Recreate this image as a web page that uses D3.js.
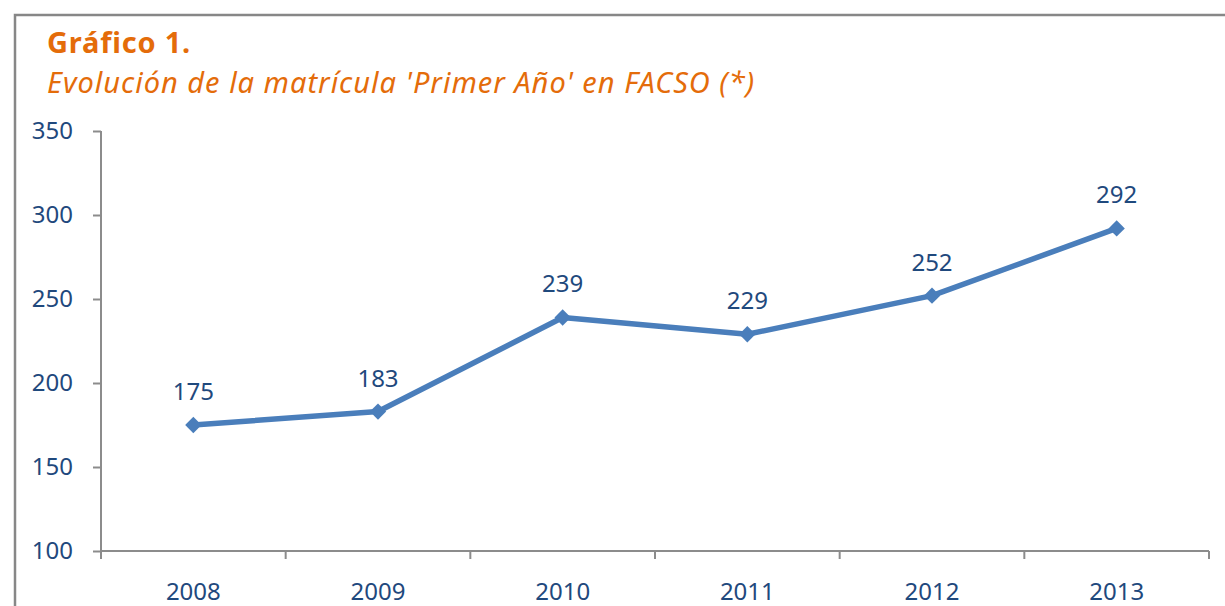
<!DOCTYPE html>
<html>
<head>
<meta charset="utf-8">
<script src="https://cdn.jsdelivr.net/npm/d3@7"></script>
<style>
  body { margin: 0; background: #fff; }
  svg text { font-family: "Noto Sans", sans-serif; }
</style>
</head>
<body>
<div id="chart"></div>
<script>
var years = ["2008", "2009", "2010", "2011", "2012", "2013"];
var matricula = [175, 183, 239, 229, 252, 292];
var y_ticks = [100, 150, 200, 250, 300, 350];
var title = "Gráfico 1.";
var subtitle = "Evolución de la matrícula 'Primer Año' en FACSO (*)";

var totalWidth = 1225, totalHeight = 606;
var margin = {top: 131, right: 16, bottom: 55, left: 101};
var width = 1209 - margin.left,
    height = 551 - margin.top;
var text_color = "#1f497d", line_color = "#4a7ebb", orange = "#e46c0a", grey = "#8c8c8c";

var svg = d3.select("#chart").append("svg")
    .attr("width", totalWidth)
    .attr("height", totalHeight);

// outer frame (cut by the picture edges)
svg.append("path")
    .attr("d", "M15," + totalHeight + "V15H" + totalWidth)
    .attr("fill", "none")
    .attr("stroke", "#878787")
    .attr("stroke-width", 2.5);

svg.append("text")
    .attr("x", 47).attr("y", 53)
    .attr("fill", orange)
    .attr("font-weight", "bold")
    .attr("font-size", 29)
    .attr("letter-spacing", 0.8)
    .text(title);
svg.append("text")
    .attr("x", 47).attr("y", 93)
    .attr("fill", orange)
    .attr("font-style", "italic")
    .attr("font-size", 29)
    .attr("letter-spacing", 1)
    .text(subtitle);

var g = svg.append("g")
    .attr("transform", "translate(" + margin.left + "," + margin.top + ")");

var x_scale = d3.scaleBand().domain(years).range([0, width]);
var y_scale = d3.scaleLinear().domain([100, 350]).range([height, 0]);

var yAxis = d3.axisLeft(y_scale).tickValues(y_ticks).tickSize(8).tickPadding(20);
var xAxis = d3.axisBottom(x_scale).tickSize(0).tickPadding(32);

var gy = g.append("g").call(yAxis);
var gx = g.append("g").attr("transform", "translate(0," + height + ")").call(xAxis);

// category boundary ticks
gx.selectAll(".bound")
    .data(d3.range(years.length + 1))
    .enter().append("line")
    .attr("class", "bound")
    .attr("x1", function(i){ return i * x_scale.bandwidth(); })
    .attr("x2", function(i){ return i * x_scale.bandwidth(); })
    .attr("y1", 0).attr("y2", 8)
    .attr("stroke", grey).attr("stroke-width", 2);

[gx, gy].forEach(function(a){
    a.select(".domain").attr("stroke", grey).attr("stroke-width", 2);
    a.selectAll(".tick line").attr("stroke", grey).attr("stroke-width", 2);
    a.selectAll(".tick text").attr("fill", text_color).attr("font-size", 24)
        .attr("font-family", "Noto Sans, sans-serif");
});
gx.select(".domain").attr("d", "M0,0H" + width);
gy.select(".domain").attr("d", "M0,0V" + height);

var cx = function(d, i){ return x_scale(years[i]) + x_scale.bandwidth() / 2; };

var line = d3.line()
    .x(cx)
    .y(function(d){ return y_scale(d); });

g.append("path")
    .attr("d", line(matricula))
    .attr("fill", "none")
    .attr("stroke", line_color)
    .attr("stroke-width", 5.5)
    .attr("stroke-linejoin", "round");

g.selectAll(".marker")
    .data(matricula)
    .enter().append("path")
    .attr("class", "marker")
    .attr("d", d3.symbol().type(d3.symbolDiamond2).size(170))
    .attr("transform", function(d, i){ return "translate(" + cx(d, i) + "," + y_scale(d) + ")"; })
    .attr("fill", line_color);

g.selectAll(".label")
    .data(matricula)
    .enter().append("text")
    .attr("class", "label")
    .attr("x", cx)
    .attr("y", function(d){ return y_scale(d) - 25; })
    .attr("text-anchor", "middle")
    .attr("fill", text_color)
    .attr("font-size", 24)
    .text(function(d){ return d; });
</script>
</body>
</html>
